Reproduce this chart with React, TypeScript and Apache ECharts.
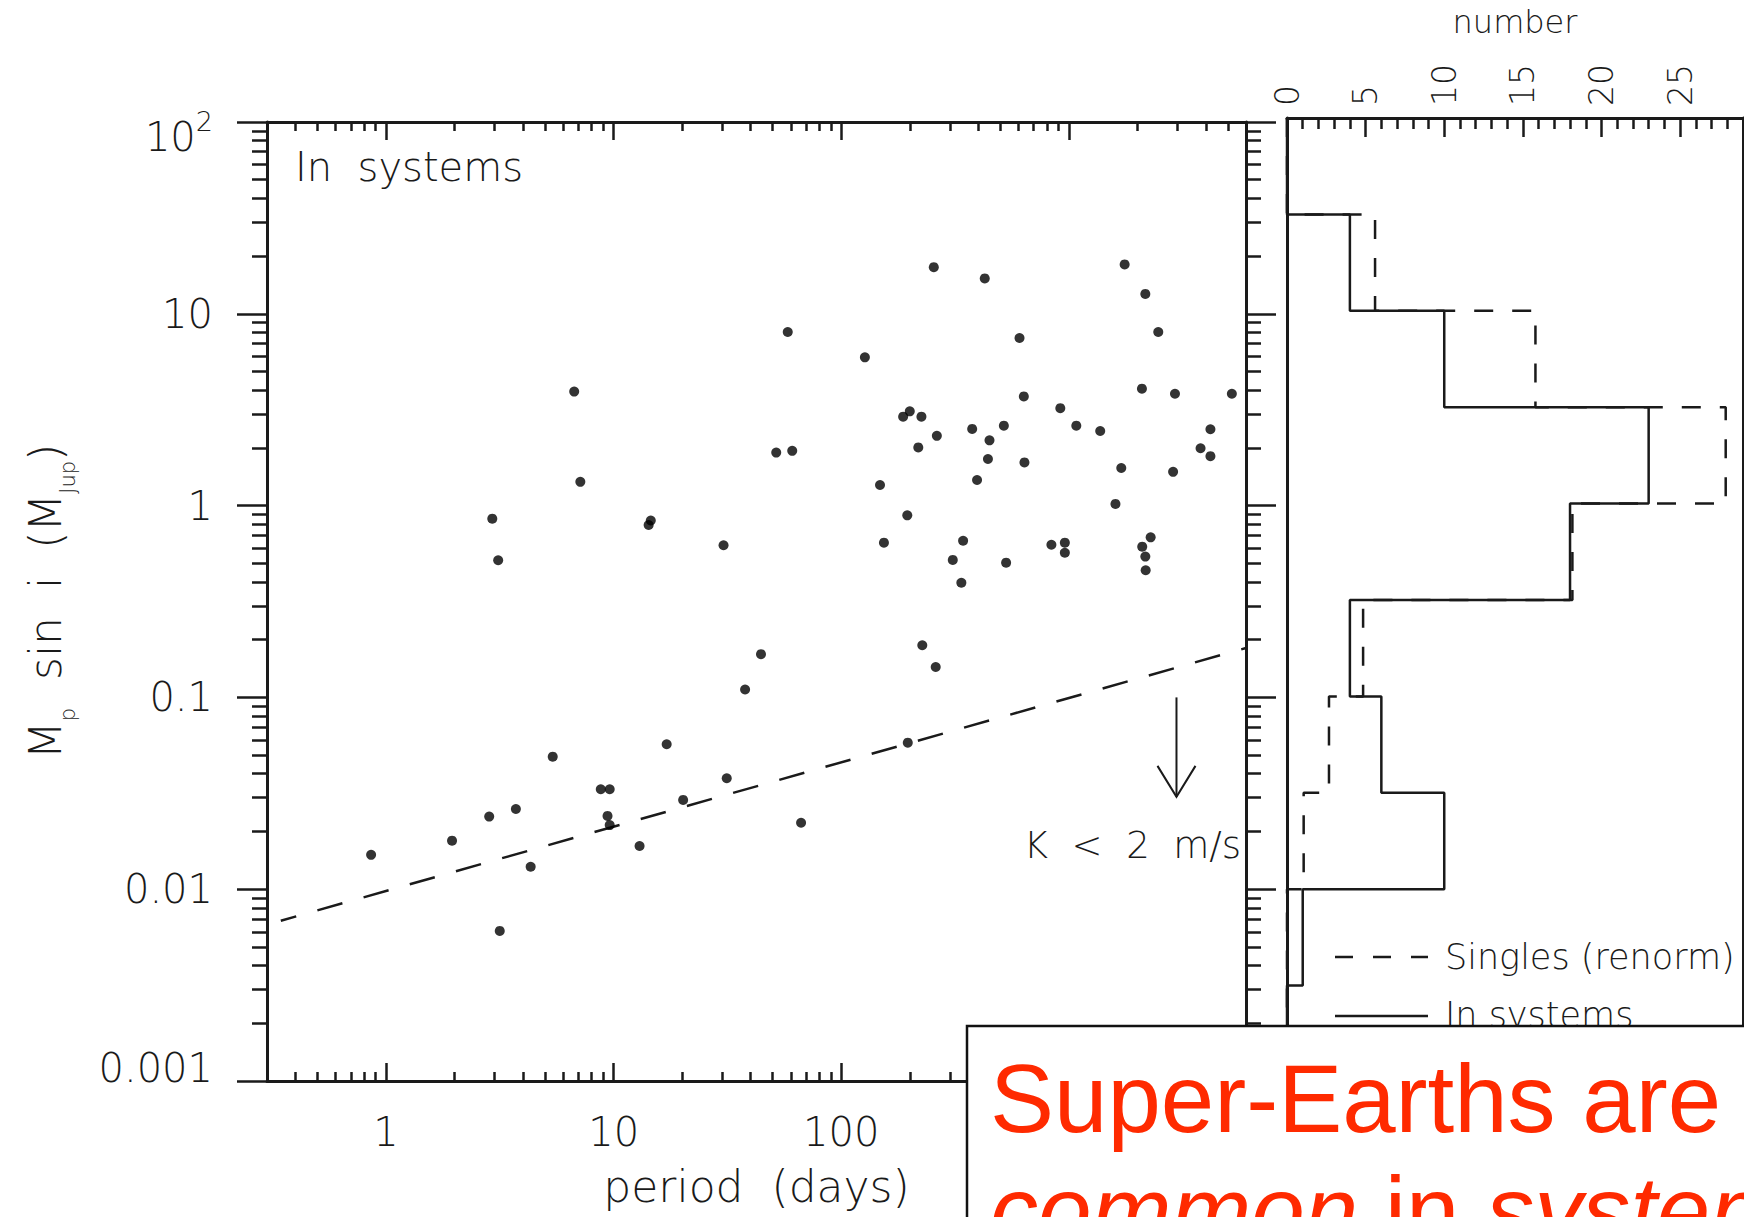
import React, { useEffect, useRef } from 'react';
import * as echarts from 'echarts';

// Planets in multi-planet systems: orbital period (days) and M_p sin i (Jupiter masses)
const periodDays = [
  0.86, 1.95, 2.84, 3.72, 2.93, 3.11, 3.16, 4.32, 5.4, 6.71,
  7.14, 8.78, 9.61, 9.4, 9.61, 13.0, 14.25, 14.56, 17.1, 20.2,
  30.4, 31.4, 37.8, 44.4, 51.8, 58.2, 60.9, 66.6, 127, 148,
  154, 187, 200, 225, 195, 196, 218, 227, 255, 263,
  260, 309, 343, 337, 376, 395, 427, 441, 448, 518,
  530, 607, 634, 638, 838, 917, 960, 960, 1078, 1373,
  1602, 1699, 1758, 2094, 2167, 2100, 2287, 2167, 2175, 2470,
  2870, 2925, 3789, 4187, 4187, 5200,
];
const massJup = [
  0.0151, 0.0179, 0.0239, 0.0262, 0.855, 0.519, 0.00606, 0.0131, 0.0491, 3.93,
  1.33, 0.0332, 0.0332, 0.0241, 0.0216, 0.0168, 0.792, 0.836, 0.057, 0.0292,
  0.621, 0.0379, 0.11, 0.168, 1.89, 8.04, 1.93, 0.0222, 5.93, 1.28,
  0.641, 2.91, 3.1, 2.91, 0.89, 0.0581, 2.01, 0.187, 17.5, 2.31,
  0.144, 0.521, 0.656, 0.396, 2.51, 1.36, 15.3, 1.75, 2.19, 2.61,
  0.504, 7.48, 3.71, 1.68, 0.625, 3.22, 0.641, 0.568, 2.61, 2.45,
  1.02, 1.57, 18.1, 4.07, 12.7, 0.611, 0.683, 0.542, 0.46, 8.04,
  1.5, 3.83, 1.99, 2.5, 1.81, 3.83,
];

// K = 2 m/s radial-velocity limit (a straight line on log-log axes)
const limitPeriod = [0.345, 6000];
const limitMass = [0.00685, 0.181];

// Arrow pointing below the limit
const arrowPeriod = [2970];
const arrowFrom = [0.1];
const arrowTo = [0.0303];

// Mass histogram, half-decade bins listed from the top edge down
const binEdges = [100, 31.62, 10, 3.162, 1, 0.3162, 0.1, 0.03162, 0.01, 0.003162, 0.001];
const countsSystems = [0, 4, 10, 23, 18, 4, 6, 10, 1, 0];
const countsSingles = [0, 5.6, 15.8, 27.9, 18.15, 4.84, 2.67, 1.06, 0, 0];

// Tick values
const periodMajor = [1, 10, 100, 1000];
const periodLabels = [1, 10, 100];
const periodMinor = [
  0.4, 0.5, 0.6, 0.7, 0.8, 0.9, 2, 3, 4, 5, 6, 7, 8, 9,
  20, 30, 40, 50, 60, 70, 80, 90, 200, 300, 400, 500, 600, 700, 800, 900,
  2000, 3000, 4000, 5000,
];
const massMajor = [0.001, 0.01, 0.1, 1, 10, 100];
const massMinor = [
  0.002, 0.003, 0.004, 0.005, 0.006, 0.007, 0.008, 0.009,
  0.02, 0.03, 0.04, 0.05, 0.06, 0.07, 0.08, 0.09,
  0.2, 0.3, 0.4, 0.5, 0.6, 0.7, 0.8, 0.9,
  2, 3, 4, 5, 6, 7, 8, 9,
  20, 30, 40, 50, 60, 70, 80, 90,
];
const countMajor = [0, 5, 10, 15, 20, 25];
const countMinor = [1, 2, 3, 4, 6, 7, 8, 9, 11, 12, 13, 14, 16, 17, 18, 19, 21, 22, 23, 24, 26, 27, 28];

const FONT = '"DejaVu Sans", "Noto Sans", sans-serif';
const INK = '#1a1a1a';
const RED = '#ff2a00';
const SANS = '"Liberation Sans", Arial, sans-serif';

function staircase(counts: number[]): number[][] {
  const pts: number[][] = [];
  counts.forEach((c, i) => {
    pts.push([c, binEdges[i]], [c, binEdges[i + 1]]);
  });
  return pts;
}

function massLabel(v: number): string {
  if (v >= 99) return '{hi|10}{sup|2}';
  if (v >= 9) return '10';
  if (v >= 0.9) return '1';
  if (v >= 0.09) return '0.1';
  if (v >= 0.009) return '0.01';
  return '{lo|0.001}';
}

const hidden = { show: false };
const line3 = { show: true, onZero: false, lineStyle: { color: INK, width: 3 } };
const noLine = { show: false, onZero: false };

function periodAxis(position: 'top' | 'bottom', ticks: number[], len: number, extra: any = {}) {
  return {
    type: 'log', logBase: 10, gridIndex: 0, position, min: 0.3, max: 6000,
    axisLine: noLine, splitLine: hidden, minorTick: hidden,
    axisTick: { show: true, inside: true, length: len, customValues: ticks, lineStyle: { color: INK, width: 2.5 } },
    axisLabel: hidden,
    ...extra,
  };
}

function massAxis(position: 'left' | 'right', ticks: number[], len: number, extra: any = {}) {
  return {
    type: 'log', logBase: 10, gridIndex: 0, position, min: 0.001, max: 100,
    axisLine: noLine, splitLine: hidden, minorTick: hidden,
    axisTick: { show: true, inside: false, length: len, customValues: ticks, lineStyle: { color: INK, width: 2.5 } },
    axisLabel: hidden,
    ...extra,
  };
}

function countAxis(ticks: number[], len: number, extra: any = {}) {
  return {
    type: 'value', gridIndex: 1, position: 'top', min: 0, max: 29,
    axisLine: noLine, splitLine: hidden, minorTick: hidden,
    axisTick: { show: true, inside: true, length: len, customValues: ticks, lineStyle: { color: INK, width: 2.5 } },
    axisLabel: hidden,
    ...extra,
  };
}

const textBase = { fontFamily: FONT, fontWeight: 200, color: INK };

const option: any = {
  animation: false,
  backgroundColor: '#ffffff',
  grid: [
    { left: 267, top: 122, width: 979, height: 959 },
    { left: 1287, top: 118, width: 456, height: 964 },
  ],
  xAxis: [
    periodAxis('bottom', periodMajor, 18, {
      axisLine: line3,
      axisLabel: {
        show: true, customValues: periodLabels, margin: 31, fontSize: 40, ...textBase,
        formatter: (v: number) => String(Math.round(v)),
      },
      name: 'period  (days)', nameLocation: 'middle', nameGap: 83,
      nameTextStyle: { fontSize: 44, ...textBase },
    }),
    periodAxis('bottom', periodMinor, 9),
    periodAxis('top', periodMajor, 18, { axisLine: line3 }),
    periodAxis('top', periodMinor, 9),
    countAxis(countMajor, 19, {
      axisLine: line3,
      axisLabel: {
        show: true, customValues: countMajor, rotate: -90, margin: 12, fontSize: 33, ...textBase,
      },
      name: 'number', nameLocation: 'middle', nameGap: 80,
      nameTextStyle: { fontSize: 32, ...textBase },
    }),
    countAxis(countMinor, 11),
  ],
  yAxis: [
    massAxis('left', massMajor, 30, {
      axisLine: line3,
      axisLabel: {
        show: true, customValues: massMajor, margin: 54, fontSize: 40, ...textBase,
        formatter: massLabel,
        rich: {
          hi: { fontSize: 40, lineHeight: 40, verticalAlign: 'top', padding: [15, 0, 0, 0] },
          sup: { fontSize: 27, lineHeight: 27, verticalAlign: 'top', padding: [6, 0, 0, 0] },
          lo: { fontSize: 40, lineHeight: 40, padding: [0, 0, 26, 0] },
        },
      },
      name: '{m|M}{s|p}{m|  sin  i  (M}{s|Jup}{m|)}',
      nameLocation: 'middle', nameGap: 198, nameRotate: 90,
      nameTextStyle: {
        fontSize: 44, ...textBase,
        rich: {
          m: { fontSize: 44, lineHeight: 46, verticalAlign: 'top' },
          s: { fontSize: 21, lineHeight: 21, verticalAlign: 'top', padding: [34, 0, 0, 0] },
        },
      },
    }),
    massAxis('left', massMinor, 15),
    massAxis('right', massMajor, 30, { axisLine: line3 }),
    massAxis('right', massMinor, 15),
    {
      type: 'log', logBase: 10, gridIndex: 1, position: 'left', min: 0.001, max: 100,
      axisLine: line3, axisTick: hidden, axisLabel: hidden, splitLine: hidden,
    },
    {
      type: 'log', logBase: 10, gridIndex: 1, position: 'right', min: 0.001, max: 100,
      axisLine: line3, axisTick: hidden, axisLabel: hidden, splitLine: hidden,
    },
  ],
  series: [
    {
      name: 'planets', type: 'scatter', xAxisIndex: 0, yAxisIndex: 0,
      symbol: 'circle', symbolSize: 10,
      itemStyle: { color: '#000' },
      data: periodDays.map((p, i) => [p, massJup[i]]),
      z: 5,
    },
    {
      name: 'K = 2 m/s', type: 'line', xAxisIndex: 0, yAxisIndex: 0,
      symbol: 'none',
      lineStyle: { color: INK, width: 2.5, type: [26, 22], dashOffset: 10 },
      data: limitPeriod.map((p, i) => [p, limitMass[i]]),
    },
    {
      name: 'arrow', type: 'custom', xAxisIndex: 0, yAxisIndex: 0,
      encode: { x: 0, y: 1 },
      data: arrowPeriod.map((p, i) => [p, arrowFrom[i], arrowTo[i]]),
      renderItem: (_params: any, api: any) => {
        const top = api.coord([api.value(0), api.value(1)]);
        const tip = api.coord([api.value(0), api.value(2)]);
        return {
          type: 'group',
          children: [
            { type: 'line', shape: { x1: top[0], y1: top[1], x2: tip[0], y2: tip[1] }, style: { stroke: INK, lineWidth: 2 } },
            {
              type: 'polyline',
              shape: { points: [[tip[0] - 19, tip[1] - 31], [tip[0], tip[1]], [tip[0] + 19, tip[1] - 31]] },
              style: { stroke: INK, lineWidth: 2, fill: 'none' },
            },
          ],
        };
      },
    },
    {
      name: 'In systems', type: 'line', xAxisIndex: 4, yAxisIndex: 4,
      symbol: 'none',
      lineStyle: { color: INK, width: 2.5 },
      data: staircase(countsSystems),
    },
    {
      name: 'Singles (renorm)', type: 'line', xAxisIndex: 4, yAxisIndex: 4,
      symbol: 'none',
      lineStyle: { color: INK, width: 2.5, type: [19, 19] },
      data: staircase(countsSingles),
    },
  ],
  graphic: [
    {
      type: 'text', x: 295, y: 167, z: 10,
      style: { text: 'In  systems', fontSize: 40, fontFamily: FONT, fontWeight: 200, fill: INK, align: 'left', verticalAlign: 'middle' },
    },
    {
      type: 'text', x: 1241, y: 845, z: 10,
      style: { text: 'K  <  2  m/s', fontSize: 37, fontFamily: FONT, fontWeight: 200, fill: INK, align: 'right', verticalAlign: 'middle' },
    },
    {
      type: 'line', z: 10,
      shape: { x1: 1335, y1: 957, x2: 1428, y2: 957 },
      style: { stroke: INK, lineWidth: 2.5, lineDash: [18, 20] },
    },
    {
      type: 'text', x: 1445, y: 957, z: 10,
      style: { text: 'Singles (renorm)', fontSize: 35, fontFamily: FONT, fontWeight: 200, fill: INK, align: 'left', verticalAlign: 'middle' },
    },
    {
      type: 'line', z: 10,
      shape: { x1: 1335, y1: 1016, x2: 1428, y2: 1016 },
      style: { stroke: INK, lineWidth: 2.5 },
    },
    {
      type: 'text', x: 1445, y: 1015, z: 10,
      style: { text: 'In systems', fontSize: 35, fontFamily: FONT, fontWeight: 200, fill: INK, align: 'left', verticalAlign: 'middle' },
    },
    {
      type: 'rect', z: 100,
      shape: { x: 967, y: 1026, width: 820, height: 260 },
      style: { fill: '#ffffff', stroke: '#111111', lineWidth: 2.5 },
    },
    {
      type: 'text', x: 990, y: 1098, z: 101,
      style: {
        text: 'Super-Earths are', fontSize: 96, fontFamily: SANS,
        fill: RED, align: 'left', verticalAlign: 'middle',
      },
    },
    {
      type: 'text', x: 990, y: 1210, z: 101,
      style: {
        text: '{i|common} in {i|systems}', fontSize: 96, fontFamily: SANS,
        fill: RED, align: 'left', verticalAlign: 'middle',
        rich: { i: { fontStyle: 'italic', fontSize: 96, fontFamily: SANS, fill: RED } },
      },
    },
  ],
};

export default function App() {
  const ref = useRef<HTMLDivElement>(null);
  useEffect(() => {
    if (!ref.current) return;
    const chart = echarts.init(ref.current, null, { renderer: 'svg' });
    chart.setOption(option);
    return () => chart.dispose();
  }, []);
  return (
    <div
      ref={ref}
      style={{ position: 'absolute', left: 0, top: 0, width: 1744, height: 1217, background: '#fff' }}
    />
  );
}
